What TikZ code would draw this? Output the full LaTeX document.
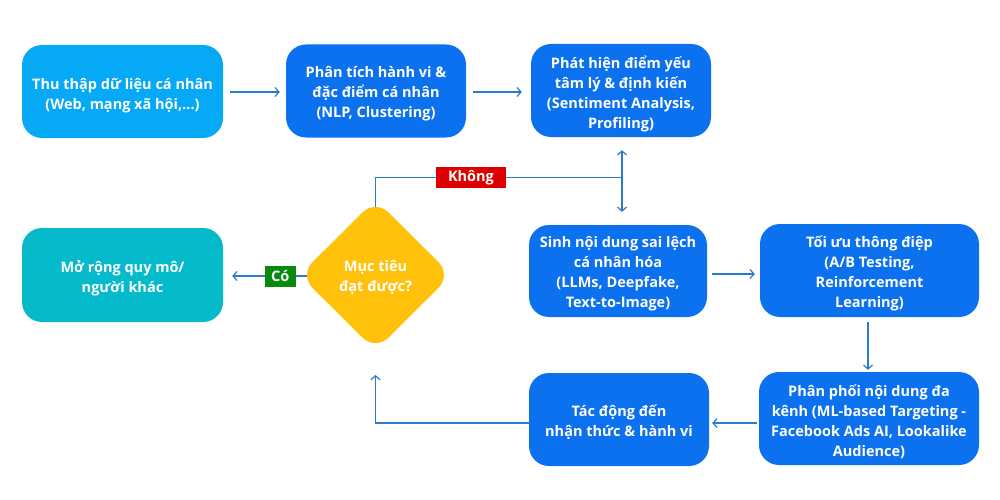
\documentclass[tikz,border=0pt]{standalone}
\usepackage{fontspec}
\setmainfont{Open Sans}
\usetikzlibrary{arrows.meta,shapes.geometric}
\definecolor{cyanbox}{HTML}{06A9F6}
\definecolor{bluebox}{HTML}{0B71EF}
\definecolor{tealbox}{HTML}{04BACB}
\definecolor{amberbox}{HTML}{FFC10A}
\definecolor{redlab}{HTML}{DE0000}
\definecolor{greenlab}{HTML}{078A0E}
\definecolor{linec}{HTML}{2A7BCB}
\begin{document}
\begin{tikzpicture}[x=1pt,y=-1pt,
  box/.style={rounded corners=20pt, inner sep=0pt},
  txt/.style={text=white, font=\bfseries\fontsize{14.5}{20}\selectfont, align=center, inner sep=0pt},
  arr/.style={draw=linec, line width=1.2pt, -{Straight Barb[length=4pt,width=9pt]}},
  plain/.style={draw=linec, line width=1.2pt},
  lab/.style={text=white, font=\bfseries\fontsize{14.5}{16}\selectfont, inner sep=0pt, minimum height=21pt}
]
\useasboundingbox (0,0) rectangle (1000,500);
\fill[white] (0,0) rectangle (1000,500);

\node[box, fill=cyanbox, minimum width=201pt, minimum height=93pt] (b1) at (122.5,91.5) {};
\node[txt] (t1) at ([yshift=-4pt]b1.center) {Thu thập dữ liệu cá nhân\\(Web, mạng xã hội,...)};
\node[box, fill=bluebox, minimum width=180pt, minimum height=93pt] (b2) at (376,91) {};
\node[txt] (t2) at ([yshift=-3pt]b2.center) {Phân tích hành vi \&\\đặc điểm cá nhân\\(NLP, Clustering)};
\node[box, fill=bluebox, minimum width=180pt, minimum height=93pt] (b3) at (621,90.5) {};
\node[txt] (t3) at ([yshift=-3pt]b3.center) {Phát hiện điểm yếu\\tâm lý \& định kiến\\(Sentiment Analysis,\\Profiling)};
\node[box, fill=bluebox, minimum width=178pt, minimum height=92pt] (b4) at (618,271) {};
\node[txt] (t4) at ([yshift=-3pt]b4.center) {Sinh nội dung sai lệch\\cá nhân hóa\\(LLMs, Deepfake,\\Text-to-Image)};
\node[box, fill=bluebox, minimum width=219pt, minimum height=93pt] (b5) at (869.5,270.5) {};
\node[txt] (t5) at ([yshift=-3pt]b5.center) {Tối ưu thông điệp\\(A/B Testing,\\Reinforcement\\Learning)};
\node[box, fill=bluebox, minimum width=220pt, minimum height=93pt] (b6) at (869,418.5) {};
\node[txt] (t6) at ([yshift=-3pt]b6.center) {Phân phối nội dung đa\\kênh (ML-based Targeting -\\Facebook Ads AI, Lookalike\\Audience)};
\node[box, fill=bluebox, minimum width=180pt, minimum height=93pt] (b7) at (619,419.5) {};
\node[txt] (t7) at ([yshift=-3pt]b7.center) {Tác động đến\\nhận thức \& hành vi};
\node[box, fill=tealbox, minimum width=201pt, minimum height=94pt] (b8) at (122.5,275) {};
\node[txt] (t8) at ([yshift=-3pt]b8.center) {Mở rộng quy mô/\\người khác};
\node[diamond, fill=amberbox, minimum width=152pt, minimum height=151pt, inner sep=0pt,
  rounded corners=18pt] (dia) at (375.5,275) {};
\node[txt] (td) at ([yshift=-2pt]dia.center) {Mục tiêu\\đạt được?};

\coordinate (jn) at (622,177.5);
\coordinate (dtop) at (375.5,207);
\coordinate (dbot) at (375.5,343);
\coordinate (dleft) at (307,276);

\draw[arr, shorten <=7pt, shorten >=6pt] (b1.east |- 0,92) -- (b2.west |- 0,92);
\draw[arr, shorten <=7pt, shorten >=9pt] (b2.east |- 0,92) -- (b3.west |- 0,92);
\draw[arr, shorten <=5pt, shorten >=5pt] (b4.east |- 0,274) -- (b5.west |- 0,274);
\draw[arr, shorten <=5pt, shorten >=2pt] (b5.south -| 868,0) -- (b6.north -| 868,0);
\draw[arr, shorten <=2pt, shorten >=3pt] (b6.west |- 0,423) -- (b7.east |- 0,423);
\draw[arr, shorten >=32pt] (b7.west |- 0,423) -| (dbot);
\draw[arr, shorten >=9pt] (dleft) -- (b8.east |- dleft)
  node[lab, fill=greenlab, minimum width=31pt, pos=0.32] (co) {Có};
\draw[plain] (dtop) |- (jn);
\node[lab, fill=redlab, minimum width=70pt] (khong) at (471,177.5) {Không};
\draw[arr, shorten >=13pt] (jn) -- (b3.south -| jn);
\draw[arr, shorten >=13pt] (jn) -- (b4.north -| jn);
\end{tikzpicture}
\end{document}
